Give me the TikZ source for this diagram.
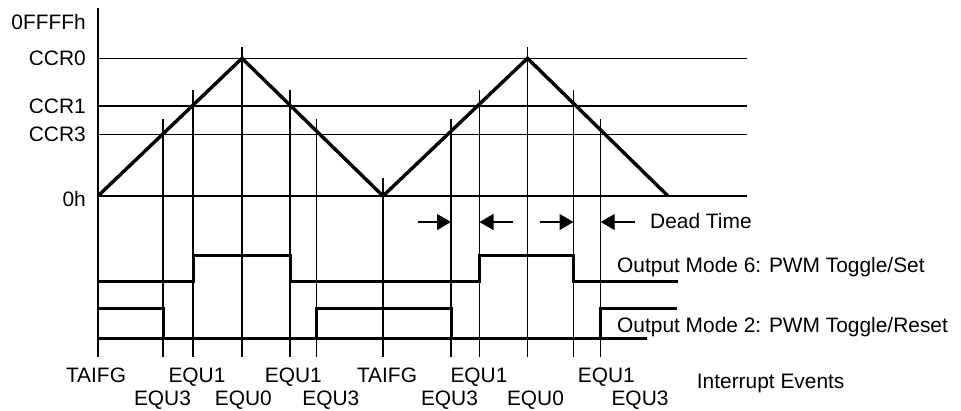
\documentclass[tikz,border=0pt]{standalone}
\usepackage{fontspec}
\setmainfont{Liberation Sans}
\usetikzlibrary{arrows.meta}
\begin{document}
\begin{tikzpicture}[x=1pt,y=-1pt,
  thin line/.style={line width=1.1pt},
  axis line/.style={line width=2.5pt},
  wave/.style={line width=3.4pt,line join=miter},
  signal/.style={line width=3pt,line join=miter},
  lbl/.style={inner sep=0pt,font=\fontsize{20.9}{24}\selectfont},
  dead/.style={line width=1.1pt,-{Triangle[length=14pt,width=16pt]}}]
\useasboundingbox (0,0) rectangle (961,410);
% levels
\coordinate (ytop) at (98,8);
\coordinate (ybot) at (98,357);
\draw[axis line] (ytop) -- (ybot);
\coordinate (l0s) at (98,58.3);  \coordinate (l0e) at (747,58.3);
\coordinate (l1s) at (98,106);   \coordinate (l1e) at (747,106);
\coordinate (l3s) at (98,134.5); \coordinate (l3e) at (747,134.5);
\coordinate (lzs) at (98,196);   \coordinate (lze) at (747,196);
\draw[thin line] (l0s) -- (l0e);
\draw[thin line] (l1s) -- (l1e);
\draw[thin line] (l3s) -- (l3e);
\draw[thin line] (lzs) -- (lze);
% level labels
\node[lbl,anchor=base east] (tFFFF) at (86,29.5) {0FFFFh};
\node[lbl,anchor=base east] (tCCR0) at (86,65.3) {CCR0};
\node[lbl,anchor=base east] (tCCR1) at (86,113.3) {CCR1};
\node[lbl,anchor=base east] (tCCR3) at (86,141.8) {CCR3};
\node[lbl,anchor=base east] (t0h) at (86,206.7) {0h};
% event verticals
\foreach \n/\x/\t in {a/163/119, b/193/90, c/242/47, d/290/90, e/316.7/119, f/383/178,
                      g/451/119, h/479.5/90, i/527.5/47, j/573.5/90, k/600.7/119}{
  \coordinate (\n t) at (\x,\t);
  \coordinate (\n b) at (\x,357);
  \draw[thin line] (\n t) -- (\n b);
}
% counter triangle
\coordinate (p0) at (98,196);
\coordinate (p1) at (242,58.3);
\coordinate (p2) at (383,196);
\coordinate (p3) at (527.5,58.3);
\coordinate (p4) at (668,196);
\draw[wave] (p0) -- (p1) -- (p2) -- (p3) -- (p4);
% dead time arrows
\coordinate (d1s) at (417.5,222); \coordinate (d1e) at (451,222);
\coordinate (d2s) at (512.7,222); \coordinate (d2e) at (479.5,222);
\coordinate (d3s) at (539.5,222); \coordinate (d3e) at (573.5,222);
\coordinate (d4s) at (635,222);   \coordinate (d4e) at (600.7,222);
\draw[dead] (d1s) -- (d1e);
\draw[dead] (d2s) -- (d2e);
\draw[dead] (d3s) -- (d3e);
\draw[dead] (d4s) -- (d4e);
\node[lbl,anchor=base west] (tdead) at (650,228.3) {Dead Time};
% output mode 6
\coordinate (m6s) at (98,281);
\coordinate (m6e) at (678,281);
\draw[signal] (m6s) -- (193,281) -- (193,255.5) -- (290,255.5) -- (290,281)
  -- (479.5,281) -- (479.5,255.5) -- (573.5,255.5) -- (573.5,281) -- (m6e);
\node[lbl,anchor=base west] (tm6) at (617,272) {Output Mode 6: PWM Toggle/Set};
% output mode 2
\coordinate (m2s) at (98,338.5);
\coordinate (m2e) at (647,338.5);
\draw[signal] (m2s) -- (m2e);
\draw[signal] (98,308.3) -- (163,308.3) -- (163,338.5);
\draw[signal] (316.7,338.5) -- (316.7,308.3) -- (451,308.3) -- (451,338.5);
\draw[signal] (600.7,338.5) -- (600.7,308.3) -- (677,308.3);
\node[lbl,anchor=base west] (tm2) at (617,332.3) {Output Mode 2: PWM Toggle/Reset};
% interrupt event labels
\node[lbl,anchor=base] (eA) at (96,382.5) {TAIFG};
\node[lbl,anchor=base] (eB) at (162.5,405) {EQU3};
\node[lbl,anchor=base] (eC) at (197,382.5) {EQU1};
\node[lbl,anchor=base] (eD) at (243.3,405) {EQU0};
\node[lbl,anchor=base] (eE) at (293.3,382.5) {EQU1};
\node[lbl,anchor=base] (eF) at (330.8,405) {EQU3};
\node[lbl,anchor=base] (eG) at (387,382.5) {TAIFG};
\node[lbl,anchor=base] (eH) at (449.5,405) {EQU3};
\node[lbl,anchor=base] (eI) at (479,382.5) {EQU1};
\node[lbl,anchor=base] (eJ) at (535.5,405) {EQU0};
\node[lbl,anchor=base] (eK) at (606.3,382.5) {EQU1};
\node[lbl,anchor=base] (eL) at (640,405) {EQU3};
\node[lbl,anchor=base west] (tint) at (696.7,388.3) {Interrupt Events};
\end{tikzpicture}
\end{document}
